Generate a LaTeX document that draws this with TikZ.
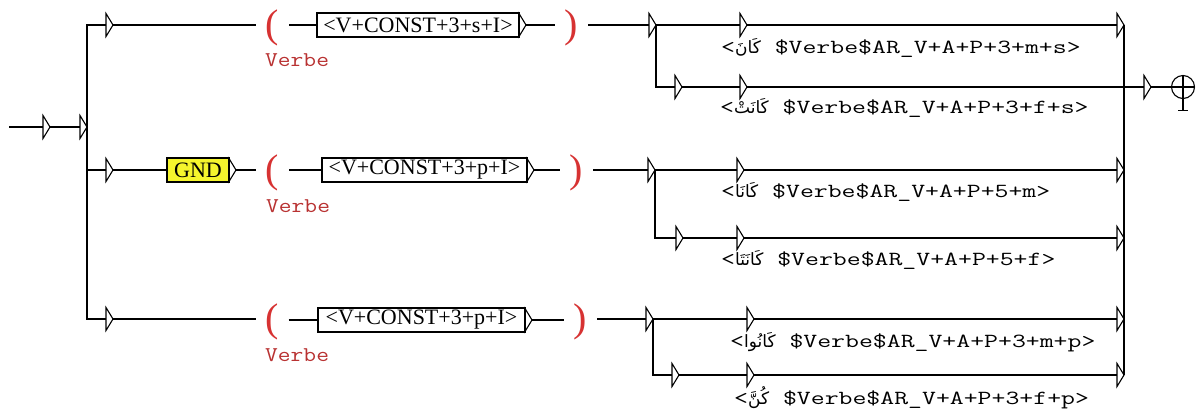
\documentclass[tikz,border=0pt]{standalone}
\usepackage{graphicx}
\usepackage{fontspec}
\setmainfont{Liberation Serif}
\newfontfamily\arabicfont[Script=Arabic]{DejaVu Sans}
\TeXXeTstate=1
\usetikzlibrary{calc}
\definecolor{parred}{RGB}{215,50,50}
\definecolor{varred}{RGB}{185,50,50}
\definecolor{gndyellow}{RGB}{245,245,45}
\newcommand\mtx[1]{\scalebox{1.35}[1]{\ttfamily\fontsize{20}{20}\selectfont\addfontfeatures{FakeBold=1.5}#1}}
\newcommand\vtx[1]{\scalebox{1.18}[1]{\ttfamily\fontsize{21}{21}\selectfont\addfontfeatures{FakeBold=1.5}#1}}
\newcommand\outtxt[2]{\mtx{<}{\arabicfont\fontsize{17}{17}\selectfont\beginR #1\endR}\mtx{\ #2}}
\newcommand\tri[2]{\node[trinode] (#1) at #2 {};
  \draw[edge] (#1.north west) -- (#1.east) -- (#1.south west) -- cycle;}
\tikzset{
  edge/.style={line width=1.1pt, black},
  trinode/.style={rectangle, inner sep=0pt, outer sep=0pt, minimum width=7pt, minimum height=23pt, anchor=west},
  lbox/.style={draw, line width=1.1pt, rectangle, inner sep=0pt, outer sep=0pt, minimum height=24pt, anchor=west, font=\fontsize{22}{22}\selectfont},
  gndbox/.style={lbox, fill=gndyellow},
  paren/.style={inner sep=0pt, outer sep=0pt, minimum width=33pt, text=parred, font=\fontsize{40}{40}\selectfont},
  varlab/.style={inner sep=0pt, anchor=west, text=varred},
  outlab/.style={inner sep=0pt, anchor=west},
}
\begin{document}
\begin{tikzpicture}[x=1pt, y=-1pt]
\useasboundingbox[fill=white] (0,0) rectangle (1198,410);

% ---------- start ----------
\coordinate (s0) at (9,127);
\coordinate (s1) at (22,127);
\draw[line width=2.6pt] (s0) -- (s1);
\tri{t0}{(43,127)}
\tri{t00}{(80,127)}
\draw[edge] (s1) -- (t0.west);
\draw[edge] (t0.east) -- (t00.west);

\tri{r1}{(106,25)}
\tri{r2}{(106,170)}
\tri{r3}{(106,319)}
\draw[edge] (t00.east) |- (r1.west);
\draw[edge] (t00.east) |- (r2.west);
\draw[edge] (t00.east) |- (r3.west);

% ---------- row 1 ----------
\node[paren] (po1) at (272.5,27.5) {(};
\node[varlab] (v1) at (265,60) {\vtx{Verbe}};
\node[lbox, minimum width=202pt] (b1) at (317,25) {<V+CONST+3+s+I>};
\tri{b1t}{(b1.east)}
\node[paren] (pc1) at (571.5,27.5) {)};
\draw[edge] (r1.east) -- (r1.east -| po1.west);
\draw[edge] (b1.west -| po1.east) -- (b1.west);
\draw[edge] (b1t.east) -- (b1t.east -| pc1.west);

% ---------- row 2 ----------
\node[gndbox, minimum width=62pt] (gnd) at (167,170) {GND};
\tri{gt}{(gnd.east)}
\node[paren] (po2) at (272.5,172.5) {(};
\node[varlab] (v2) at (266,206) {\vtx{Verbe}};
\node[lbox, minimum width=205pt] (b2) at (322,170) {<V+CONST+3+p+I>};
\tri{b2t}{(b2.east)}
\node[paren] (pc2) at (576.5,172.5) {)};
\draw[edge] (r2.east) -- (gnd.west);
\draw[edge] (gt.east) -- (gt.east -| po2.west);
\draw[edge] (b2.west -| po2.east) -- (b2.west);
\draw[edge] (b2t.east) -- (b2t.east -| pc2.west);

% ---------- row 3 ----------
\node[paren] (po3) at (272,321.5) {(};
\node[varlab] (v3) at (265,355) {\vtx{Verbe}};
\node[lbox, minimum width=207pt] (b3) at (318,320) {<V+CONST+3+p+I>};
\tri{b3t}{(b3.east)}
\node[paren] (pc3) at (580.5,321.5) {)};
\draw[edge] (r3.east) -- (r3.east -| po3.west);
\draw[edge] (b3.west -| po3.east) -- (b3.west);
\draw[edge] (b3t.east) -- (b3t.east -| pc3.west);

% ---------- right part ----------
\tri{a1}{(649,25)}
\tri{a1b}{(675,87)}
\tri{o1}{(740,25)}
\tri{o1b}{(740,87)}
\tri{e1}{(1117,25)}

\tri{a2}{(648,170)}
\tri{a2b}{(676,238)}
\tri{o2}{(737,170)}
\tri{o2b}{(737,238)}
\tri{e2}{(1117,170)}
\tri{e2b}{(1117,238)}

\tri{a3}{(646,319)}
\tri{a3b}{(672,375)}
\tri{o3}{(747,319)}
\tri{o3b}{(747,375)}
\tri{e3}{(1117,319)}
\tri{e3b}{(1117,375)}

\tri{f0}{(1144,87)}
\node[circle, draw, line width=1.1pt, minimum size=23pt, inner sep=0pt] (fin) at (1183,87) {};
\draw[edge] (fin.west) -- (fin.east);
\draw[edge] (fin.north) -- ($(fin.south)+(0,11)$) coordinate (fs);
\draw[edge] ($(fs)+(-5,0)$) -- ($(fs)+(5,0)$);

\draw[edge] (pc1.east |- a1.west) -- (a1.west);
\draw[edge] (pc2.east |- a2.west) -- (a2.west);
\draw[edge] (pc3.east |- a3.west) -- (a3.west);

\draw[edge] (a1.east) -- (o1.west);
\draw[edge] (a1.east) |- (a1b.west);
\draw[edge] (a1b.east) -- (o1b.west);
\draw[edge] (o1.east) -- (e1.west);
\draw[edge] (o1b.east) -- (f0.west);

\draw[edge] (a2.east) -- (o2.west);
\draw[edge] (a2.east) |- (a2b.west);
\draw[edge] (a2b.east) -- (o2b.west);
\draw[edge] (o2.east) -- (e2.west);
\draw[edge] (o2b.east) -- (e2b.west);

\draw[edge] (a3.east) -- (o3.west);
\draw[edge] (a3.east) |- (a3b.west);
\draw[edge] (a3b.east) -- (o3b.west);
\draw[edge] (o3.east) -- (e3.west);
\draw[edge] (o3b.east) -- (e3b.west);

\draw[edge] (e1.east) -- (e3b.east);
\draw[edge] (f0.east) -- (fin.west);

% ---------- outputs ----------
\node[outlab] (l1)  at (721,48)  {\outtxt{كَانَ}{\$Verbe\$AR\_V+A+P+3+m+s>}};
\node[outlab] (l1b) at (720,108) {\outtxt{كَانَتْ}{\$Verbe\$AR\_V+A+P+3+f+s>}};
\node[outlab] (l2)  at (721,192) {\outtxt{كَانَا}{\$Verbe\$AR\_V+A+P+5+m>}};
\node[outlab] (l2b) at (721,260) {\outtxt{كَانَتَا}{\$Verbe\$AR\_V+A+P+5+f>}};
\node[outlab] (l3)  at (730,342) {\outtxt{كَانُوا}{\$Verbe\$AR\_V+A+P+3+m+p>}};
\node[outlab] (l3b) at (734,398) {\outtxt{كُنَّ}{\$Verbe\$AR\_V+A+P+3+f+p>}};
\end{tikzpicture}
\end{document}
